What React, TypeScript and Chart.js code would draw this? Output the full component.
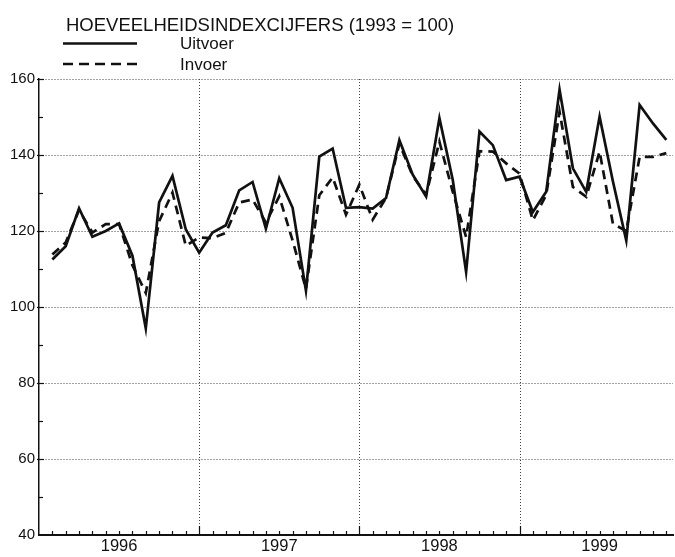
import React, { useEffect, useRef } from 'react';
import { Chart, registerables } from 'chart.js';

Chart.register(...registerables);

const TITLE = 'HOEVEELHEIDSINDEXCIJFERS (1993 = 100)';
const seriesNames = ['Uitvoer', 'Invoer'];
const yearLabels = ['1996', '1997', '1998', '1999'];
// months plotted (axis origin = start of 1996)
const months = [
  'feb 96', 'mrt 96', 'apr 96', 'mei 96', 'jun 96', 'jul 96', 'aug 96', 'sep 96', 'okt 96', 'nov 96', 'dec 96',
  'jan 97', 'feb 97', 'mrt 97', 'apr 97', 'mei 97', 'jun 97', 'jul 97', 'aug 97', 'sep 97', 'okt 97', 'nov 97', 'dec 97',
  'jan 98', 'feb 98', 'mrt 98', 'apr 98', 'mei 98', 'jun 98', 'jul 98', 'aug 98', 'sep 98', 'okt 98', 'nov 98', 'dec 98',
  'jan 99', 'feb 99', 'mrt 99', 'apr 99', 'mei 99', 'jun 99', 'jul 99', 'aug 99', 'sep 99', 'okt 99', 'nov 99', 'dec 99',
];
const uitvoer = [
  112.5, 116, 126, 118.5, 120, 122, 113.5, 94.4, 127.5, 134.5, 120.4,
  114.3, 119.6, 121.5, 130.7, 132.9, 120.6, 133.9, 126.1, 104.3, 139.6, 141.7, 126.1,
  126.3, 125.9, 128.7, 143.9, 134.8, 129.1, 149.7, 133.4, 109.2, 146.2, 142.6, 133.4,
  134.3, 125, 130.3, 157.2, 136.5, 130.3, 150.1, 133, 117.5, 153.2, 148.3, 144,
];
const invoer = [
  113.8, 117, 125.5, 119.6, 121.8, 121.8, 111, 103.7, 122.6, 130.1, 116.1,
  118.3, 118.1, 119.5, 127.5, 128.3, 122.2, 129.1, 117.5, 104.8, 129.4, 134.1, 124.3,
  132.2, 123, 128.7, 143, 134.5, 129.5, 143.5, 130.3, 118.4, 141, 140.9, 137.8,
  135.1, 122.8, 129.5, 151.4, 131.6, 129, 140.9, 121.9, 120, 139.5, 139.5, 140.5,
];
const yMin = 40;
const yMax = 160;
const yStep = 20;

const FONT = "'Liberation Sans', Arial, Helvetica, sans-serif";
const INK = '#111';
const DASH = [9, 6];

const yearGridPlugin = {
  id: 'yearGrid',
  beforeDatasetsDraw(chart: any) {
    const ctx = chart.ctx as CanvasRenderingContext2D;
    const xs = chart.scales.x;
    const { top, bottom } = chart.chartArea;
    ctx.save();
    ctx.strokeStyle = '#444';
    ctx.lineWidth = 1;
    ctx.setLineDash([1, 2]);
    for (let m = 12; m <= months.length; m += 12) {
      const px = Math.round(xs.getPixelForValue(m)) + 0.5;
      ctx.beginPath();
      ctx.moveTo(px, top);
      ctx.lineTo(px, bottom);
      ctx.stroke();
    }
    ctx.restore();
  },
};

const decorPlugin = {
  id: 'decor',
  afterDraw(chart: any) {
    const ctx = chart.ctx as CanvasRenderingContext2D;
    const xs = chart.scales.x;
    const ys = chart.scales.y;
    ctx.save();
    ctx.setLineDash([]);
    // inward minor ticks on x axis
    ctx.strokeStyle = INK;
    ctx.lineWidth = 1.2;
    const yb = ys.getPixelForValue(yMin);
    for (let m = 1; m <= months.length; m++) {
      const px = Math.round(xs.getPixelForValue(m)) + 0.5;
      const len = m % 12 === 0 ? 9 : 4;
      ctx.beginPath();
      ctx.moveTo(px, yb);
      ctx.lineTo(px, yb - len);
      ctx.stroke();
    }
    // y ticks
    const xl = xs.getPixelForValue(0);
    for (let v = yMin + 10; v <= yMax; v += 10) {
      const py = Math.round(ys.getPixelForValue(v)) + 0.5;
      ctx.beginPath();
      if (v % yStep === 0) {
        ctx.moveTo(xl - 2, py);
        ctx.lineTo(xl + 5, py);
      } else {
        ctx.moveTo(xl, py);
        ctx.lineTo(xl + 4, py);
      }
      ctx.stroke();
    }
    // title
    ctx.fillStyle = INK;
    ctx.textBaseline = 'alphabetic';
    ctx.textAlign = 'left';
    ctx.font = `18.5px ${FONT}`;
    ctx.fillText(TITLE, 66, 31);
    // legend
    ctx.font = `17px ${FONT}`;
    ctx.fillText(seriesNames[0], 180, 48.5);
    ctx.fillText(seriesNames[1], 180, 69.5);
    ctx.lineWidth = 2.7;
    ctx.beginPath();
    ctx.moveTo(63, 43.5);
    ctx.lineTo(137, 43.5);
    ctx.stroke();
    ctx.setLineDash([10, 6]);
    ctx.beginPath();
    ctx.moveTo(63, 64);
    ctx.lineTo(137, 64);
    ctx.stroke();
    ctx.restore();
  },
};

export default function App() {
  const ref = useRef<HTMLCanvasElement>(null);
  useEffect(() => {
    const canvas = ref.current!;
    const chart = new Chart(canvas, {
      type: 'line',
      data: {
        datasets: [
          {
            label: seriesNames[0],
            data: uitvoer.map((v, i) => ({ x: i + 1, y: v })),
            borderColor: INK,
            borderWidth: 2.7,
            pointRadius: 0,
            tension: 0,
            fill: false,
          },
          {
            label: seriesNames[1],
            data: invoer.map((v, i) => ({ x: i + 1, y: v })),
            borderColor: INK,
            borderWidth: 2.7,
            borderDash: DASH,
            pointRadius: 0,
            tension: 0,
            fill: false,
          },
        ],
      },
      options: {
        responsive: false,
        maintainAspectRatio: false,
        animation: false,
        devicePixelRatio: 1,
        layout: { padding: { top: 79, left: 0, right: 0, bottom: 0 } },
        plugins: {
          legend: { display: false },
          title: { display: false },
          tooltip: { enabled: false },
        },
        scales: {
          x: {
            type: 'linear',
            min: 0,
            max: months.length + 0.5,
            afterFit: (s: any) => { s.height = 22; },
            ticks: {
              stepSize: 1,
              autoSkip: false,
              maxRotation: 0,
              padding: 2,
              color: INK,
              font: { family: FONT, size: 16.5 },
              callback: (v: any) => {
                const n = Number(v);
                if (n % 12 === 6) return yearLabels[(n - 6) / 12] ?? '';
                return '';
              },
            },
            grid: { display: false, drawTicks: false },
            border: { display: true, color: INK, width: 2 },
          },
          y: {
            min: yMin,
            max: yMax,
            afterFit: (s: any) => { s.width = 39; },
            ticks: {
              stepSize: yStep,
              padding: 4,
              color: INK,
              font: { family: FONT, size: 15 },
            },
            grid: {
              drawTicks: false,
              tickLength: 0,
              lineWidth: 1,
              color: (c: any) => (c.tick?.value === yMin ? 'rgba(0,0,0,0)' : '#444'),
            },
            border: { display: true, color: INK, width: 1.5, dash: [1, 2] },
          },
        },
      },
      plugins: [yearGridPlugin, decorPlugin],
    } as any);
    return () => chart.destroy();
  }, []);
  return (
    <div style={{ position: 'fixed', left: 0, top: 0, width: 675, height: 557, background: '#fff' }}>
      <canvas ref={ref} width={675} height={557} style={{ display: 'block' }} />
    </div>
  );
}
